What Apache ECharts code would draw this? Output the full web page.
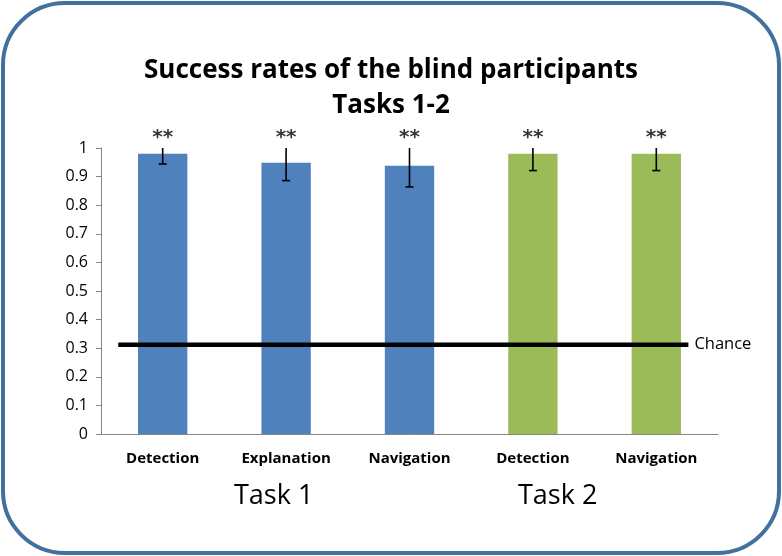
<!DOCTYPE html>
<html>
<head>
<meta charset="utf-8">
<script src="https://cdn.jsdelivr.net/npm/echarts@6/dist/echarts.min.js"></script>
<style>
  html, body { margin: 0; padding: 0; background: #fff; }
  #chart { width: 782px; height: 556px; }
</style>
</head>
<body>
<div id="chart"></div>
<script>
// data
const categories = ['Detection', 'Explanation', 'Navigation', 'Detection', 'Navigation'];
const successRates = [0.98, 0.948, 0.938, 0.98, 0.98];
const errorLow = [0.944, 0.886, 0.864, 0.921, 0.921];
const errorHigh = [1.0, 1.0, 1.0, 1.0, 1.0];
const sigMarks = ['**', '**', '**', '**', '**'];
const barColors = ['#4f81bd', '#4f81bd', '#4f81bd', '#9bbb59', '#9bbb59'];
const chanceLevel = 0.312;
const chanceSpan = [0.14, 4.76]; // in category units along the hidden value axis
const yTicks = { min: 0, max: 1, interval: 0.1 };

const font = '"Open Sans", sans-serif';
const chart = echarts.init(document.getElementById('chart'));

chart.setOption({
  animation: false,
  title: {
    text: 'Success rates of the blind participants\nTasks 1-2',
    left: 'center',
    top: 48,
    textStyle: { fontFamily: font, fontWeight: 'bold', fontSize: 26, color: '#000', lineHeight: 35 }
  },
  grid: { left: 101, right: 64, top: 148, bottom: 122 },
  xAxis: [
    {
      type: 'category',
      data: categories,
      axisLine: { lineStyle: { color: '#868686', width: 1 } },
      axisTick: { length: 5, lineStyle: { color: '#868686' } },
      axisLabel: { fontFamily: font, fontWeight: 'bold', fontSize: 15, color: '#000', margin: 17 }
    },
    { type: 'value', min: 0, max: 5, show: false }
  ],
  yAxis: {
    type: 'value',
    min: yTicks.min,
    max: yTicks.max,
    interval: yTicks.interval,
    splitLine: { show: false },
    axisLine: { show: true, lineStyle: { color: '#868686' } },
    axisTick: { show: true, length: 5, lineStyle: { color: '#868686' } },
    axisLabel: { fontFamily: font, fontSize: 16, color: '#000', margin: 13 }
  },
  series: [
    {
      type: 'bar',
      barWidth: '40%',
      data: successRates.map((v, i) => ({ value: v, itemStyle: { color: barColors[i] } }))
    },
    {
      type: 'custom',
      z: 5,
      data: categories.map((c, i) => [i, errorLow[i], errorHigh[i]]),
      renderItem: (params, api) => {
        const lo = api.coord([api.value(0), api.value(1)]);
        const hi = api.coord([api.value(0), api.value(2)]);
        const style = { stroke: '#000', lineWidth: 1.6 };
        return {
          type: 'group',
          children: [
            { type: 'line', shape: { x1: lo[0], y1: lo[1], x2: hi[0], y2: hi[1] }, style },
            { type: 'line', shape: { x1: lo[0] - 4, y1: lo[1], x2: lo[0] + 4, y2: lo[1] }, style }
          ]
        };
      }
    },
    {
      type: 'scatter',
      symbolSize: 0,
      data: categories.map((c, i) => ({ value: [i, errorHigh[i]], mark: sigMarks[i] })),
      label: {
        show: true,
        position: 'top',
        distance: 0,
        formatter: p => p.data.mark,
        fontFamily: '"DejaVu Sans", sans-serif',
        fontWeight: 'bold',
        fontSize: 20,
        color: '#000'
      }
    },
    {
      type: 'line',
      xAxisIndex: 1,
      symbol: 'none',
      z: 6,
      lineStyle: { color: '#000', width: 4.5 },
      data: chanceSpan.map(x => [x, chanceLevel]),
      endLabel: {
        show: true,
        formatter: 'Chance',
        fontFamily: font,
        fontSize: 16.5,
        color: '#000',
        distance: 6
      }
    }
  ],
  graphic: [
    {
      type: 'rect',
      shape: { x: 3, y: 3, width: 776, height: 550, r: 62 },
      style: { fill: 'none', stroke: '#41719c', lineWidth: 4 },
      silent: true
    },
    {
      type: 'text',
      left: 234, top: 483,
      style: { text: 'Task 1', fontFamily: font, fontSize: 27, fill: '#000' }
    },
    {
      type: 'text',
      left: 518, top: 483,
      style: { text: 'Task 2', fontFamily: font, fontSize: 27, fill: '#000' }
    }
  ]
});
</script>
</body>
</html>
